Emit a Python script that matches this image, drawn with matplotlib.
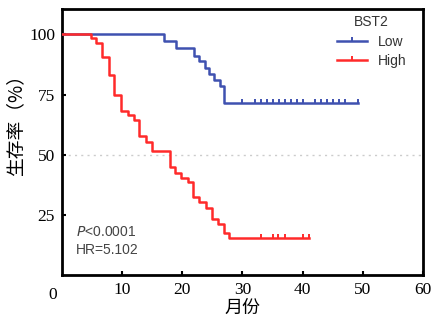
import matplotlib.pyplot as plt
from matplotlib.lines import Line2D

# step curves: event times (months) and survival after each event (%)
low_t = [0, 16.9, 18.9, 22.0, 22.8, 23.7, 24.5, 25.3, 26.2, 27.0, 49.2]
low_s = [100, 97.2, 94.4, 91.0, 88.9, 86.0, 83.6, 81.2, 78.5, 71.5, 71.5]
low_cens = [30, 32, 33, 34, 35, 36, 37, 38, 39, 40, 42, 43, 44, 45, 46, 47, 49.2]

high_t = [0, 4.8, 5.6, 6.7, 7.8, 8.7, 9.8, 10.9, 12.0, 12.8, 14.0, 15.0,
          17.9, 18.8, 19.8, 20.9, 21.8, 22.8, 23.9, 24.9, 25.9, 27.0, 27.8, 41.0]
high_s = [100, 98.3, 96.5, 90.4, 83.0, 75.0, 68.0, 66.4, 64.6, 57.6, 55.4, 51.4,
          44.9, 42.4, 40.5, 38.5, 32.4, 30.3, 27.8, 23.2, 21.3, 17.4, 15.3, 15.3]
high_cens = [33.1, 35.0, 35.9, 37.1, 40.0, 41.0]

xticks = [10, 20, 30, 40, 50, 60]
yticks = [25, 50, 75, 100]

blue = '#3f51b0'
red = '#ff2a2a'


def surv_at(t, s, x):
    val = s[0]
    for ti, si in zip(t, s):
        if ti <= x:
            val = si
    return val


fig = plt.figure(figsize=(4.33, 3.25), dpi=100)
ax = fig.add_axes([0.143, 0.154, 0.834, 0.818])

ax.axhline(50, color='#cccccc', lw=1, ls=(0, (1.5, 3)), zorder=1)

ax.step(low_t, low_s, where='post', color=blue, lw=1.8, zorder=3)
ax.plot(low_cens, [surv_at(low_t, low_s, c) for c in low_cens], ls='none',
        marker=2, ms=3, mew=1.4, color=blue, zorder=3)
ax.step(high_t, high_s, where='post', color=red, lw=1.8, zorder=4)
ax.plot(high_cens, [surv_at(high_t, high_s, c) for c in high_cens], ls='none',
        marker=2, ms=3, mew=1.4, color=red, zorder=4)

ax.set_xlim(0, 60)
ax.set_ylim(0, 110.5)
ax.set_xticks(xticks)
ax.set_yticks(yticks)
ax.tick_params(direction='in', length=3, width=1.5, labelsize=12.5, pad=5)
for lab in ax.get_xticklabels() + ax.get_yticklabels():
    lab.set_family('Liberation Serif')
for sp in ax.spines.values():
    sp.set_linewidth(2)

# origin label
ax.text(-0.025, -0.045, '0', transform=ax.transAxes, ha='center', va='top',
        fontsize=12.5, family='Liberation Serif')

ax.set_xlabel('月份', family=['Noto Sans CJK SC', 'DejaVu Sans'], fontsize=13, labelpad=1)
ax.set_ylabel('生存率（%）', family=['Noto Sans CJK SC', 'DejaVu Sans'], fontsize=13.5)
ax.yaxis.set_label_coords(-0.10, 0.58)

ax.text(2.3, 18, r'$\it{P}$<0.0001', fontsize=10, color='#444444',
        family='Liberation Sans', va='center')
ax.text(2.3, 10.4, 'HR=5.102', fontsize=10, color='#444444',
        family='Liberation Sans', va='center')

handles = [Line2D([], [], color=blue, lw=1.8, marker=2, ms=3, mew=1.4),
           Line2D([], [], color=red, lw=1.8, marker=2, ms=3, mew=1.4)]
leg = ax.legend(handles, ['Low', 'High'], title='BST2', loc='upper right',
                bbox_to_anchor=(0.99, 1.025), frameon=False, numpoints=1,
                handlelength=2.2, prop={'family': 'Liberation Sans', 'size': 10},
                title_fontproperties={'family': 'Liberation Sans', 'size': 10},
                labelspacing=0.4)
for txt in leg.get_texts():
    txt.set_color('#333333')
leg.get_title().set_color('#333333')

fig.savefig('out.png', dpi=100)
